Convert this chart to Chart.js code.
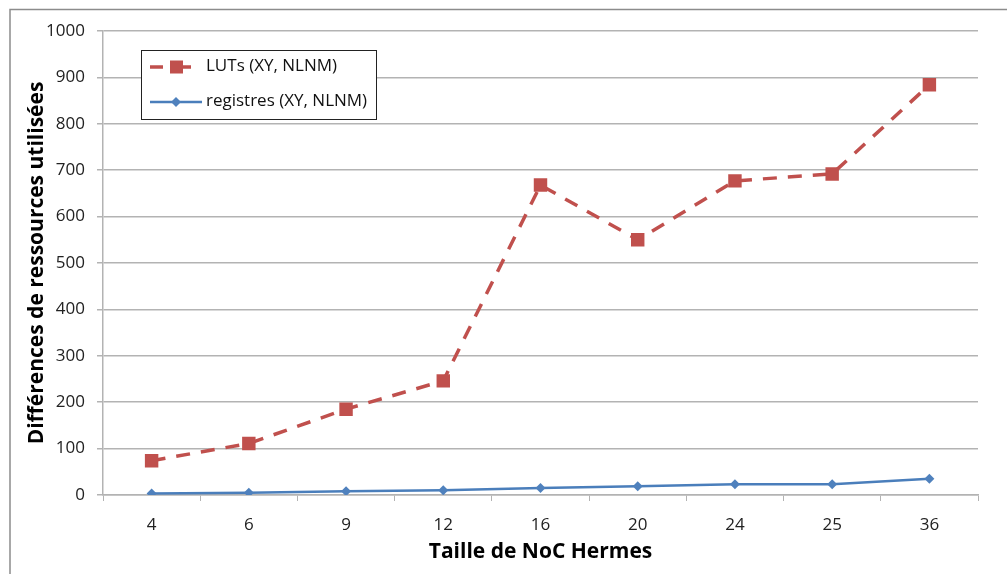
<!DOCTYPE html>
<html>
<head>
<meta charset="utf-8">
<script src="https://cdn.jsdelivr.net/npm/chart.js@4/dist/chart.umd.min.js"></script>
<style>
  body { margin: 0; background: #fff; }
  #wrap { width: 1007px; height: 574px; }
</style>
</head>
<body>
<div id="wrap"><canvas id="chart" width="1007" height="574"></canvas></div>
<script>
// values
const nocSizes = ['4', '6', '9', '12', '16', '20', '24', '25', '36'];
const lutDiff = [74, 111, 185, 246, 668, 550, 677, 692, 884];
const regDiff = [3, 5, 8, 10, 15, 19, 23, 23, 35];
const yMin = 0;
const yMax = 1000;
const yStep = 100;

const RED = '#C0504D';
const BLUE = '#4A7EBB';
const GRID = '#b3b3b3';
const FONT = '"Open Sans", "DejaVu Sans", sans-serif';

// outer frame of the original figure
const framePlugin = {
    id: 'frame',
    beforeDraw: (chart) => {
        const ctx = chart.ctx;
        ctx.save();
        ctx.fillStyle = '#fff';
        ctx.fillRect(0, 0, chart.width, chart.height);
        ctx.strokeStyle = '#8c8c8c';
        ctx.lineWidth = 1.5;
        ctx.strokeRect(10, 9.5, chart.width + 20, chart.height + 20);
        ctx.restore();
    },
};

// boxed legend sitting inside the plot area, Excel style
const boxLegendPlugin = {
    id: 'boxLegend',
    afterDraw: (chart) => {
        const ctx = chart.ctx;
        const sets = chart.data.datasets;
        ctx.save();
        ctx.fillStyle = '#fff';
        ctx.fillRect(141, 50, 235, 69);
        ctx.strokeStyle = '#222';
        ctx.lineWidth = 1;
        ctx.strokeRect(141.5, 50.5, 235, 69);

        // LUTs entry: dash, square, dash
        let y = 67;
        ctx.strokeStyle = sets[0].borderColor;
        ctx.lineWidth = 3.5;
        ctx.beginPath();
        ctx.moveTo(150, y);
        ctx.lineTo(163, y);
        ctx.moveTo(182, y);
        ctx.lineTo(191, y);
        ctx.stroke();
        ctx.fillStyle = sets[0].pointBackgroundColor;
        ctx.fillRect(170, y - 6.5, 13, 13);

        // registres entry
        y = 102;
        ctx.strokeStyle = sets[1].borderColor;
        ctx.lineWidth = 2.5;
        ctx.beginPath();
        ctx.moveTo(150, y);
        ctx.lineTo(202, y);
        ctx.stroke();
        ctx.fillStyle = sets[1].pointBackgroundColor;
        ctx.beginPath();
        ctx.moveTo(176, y - 5);
        ctx.lineTo(181, y);
        ctx.lineTo(176, y + 5);
        ctx.lineTo(171, y);
        ctx.closePath();
        ctx.fill();

        ctx.fillStyle = '#111';
        ctx.font = '17px ' + FONT;
        ctx.textBaseline = 'middle';
        ctx.fillText(sets[0].label, 206, 66);
        ctx.fillText(sets[1].label, 206, 101);
        ctx.restore();
    },
};

new Chart(document.getElementById('chart'), {
    type: 'line',
    data: {
        labels: nocSizes,
        datasets: [
            {
                label: 'LUTs (XY, NLNM)',
                data: lutDiff,
                borderColor: RED,
                borderWidth: 3.5,
                borderDash: [14, 11],
                pointStyle: 'rect',
                pointRadius: 9.5,
                pointBackgroundColor: RED,
                pointBorderColor: RED,
                pointBorderWidth: 0,
                tension: 0,
            },
            {
                label: 'registres (XY, NLNM)',
                data: regDiff,
                borderColor: BLUE,
                borderWidth: 2.5,
                pointStyle: 'rectRot',
                pointRadius: 5,
                pointBackgroundColor: '#4F81BD',
                pointBorderColor: '#4F81BD',
                pointBorderWidth: 0,
                tension: 0,
            },
        ],
    },
    options: {
        responsive: false,
        animation: false,
        devicePixelRatio: 1,
        layout: {
            padding: { left: 0, top: 31, right: 29, bottom: 0 },
        },
        plugins: {
            legend: { display: false },
            tooltip: { enabled: false },
        },
        scales: {
            x: {
                offset: true,
                grid: {
                    offset: true,
                    drawOnChartArea: false,
                    drawTicks: true,
                    tickLength: 6,
                    color: GRID,
                    tickColor: GRID,
                },
                border: { color: GRID, width: 1.5 },
                ticks: {
                    color: '#222',
                    padding: 14,
                    font: { family: FONT, size: 17 },
                },
                title: {
                    display: true,
                    text: 'Taille de NoC Hermes',
                    color: '#000',
                    font: { family: FONT, size: 21, weight: 'bold' },
                    padding: { top: 0, bottom: 9 },
                },
                afterFit: (scale) => { scale.height = 79; },
            },
            y: {
                min: yMin,
                max: yMax,
                grid: {
                    color: GRID,
                    lineWidth: 1.5,
                    tickLength: 6,
                    tickColor: GRID,
                },
                border: { color: GRID, width: 1.5 },
                ticks: {
                    stepSize: yStep,
                    autoSkip: false,
                    color: '#222',
                    padding: 12,
                    font: { family: FONT, size: 17 },
                    callback: (value) => String(value),
                },
                title: {
                    display: true,
                    text: 'Différences de ressources utilisées',
                    color: '#000',
                    font: { family: FONT, size: 21, weight: 'bold' },
                    padding: { top: 24, bottom: 0 },
                },
                afterFit: (scale) => { scale.width = 103; },
            },
        },
    },
    plugins: [framePlugin, boxLegendPlugin],
});
</script>
</body>
</html>
